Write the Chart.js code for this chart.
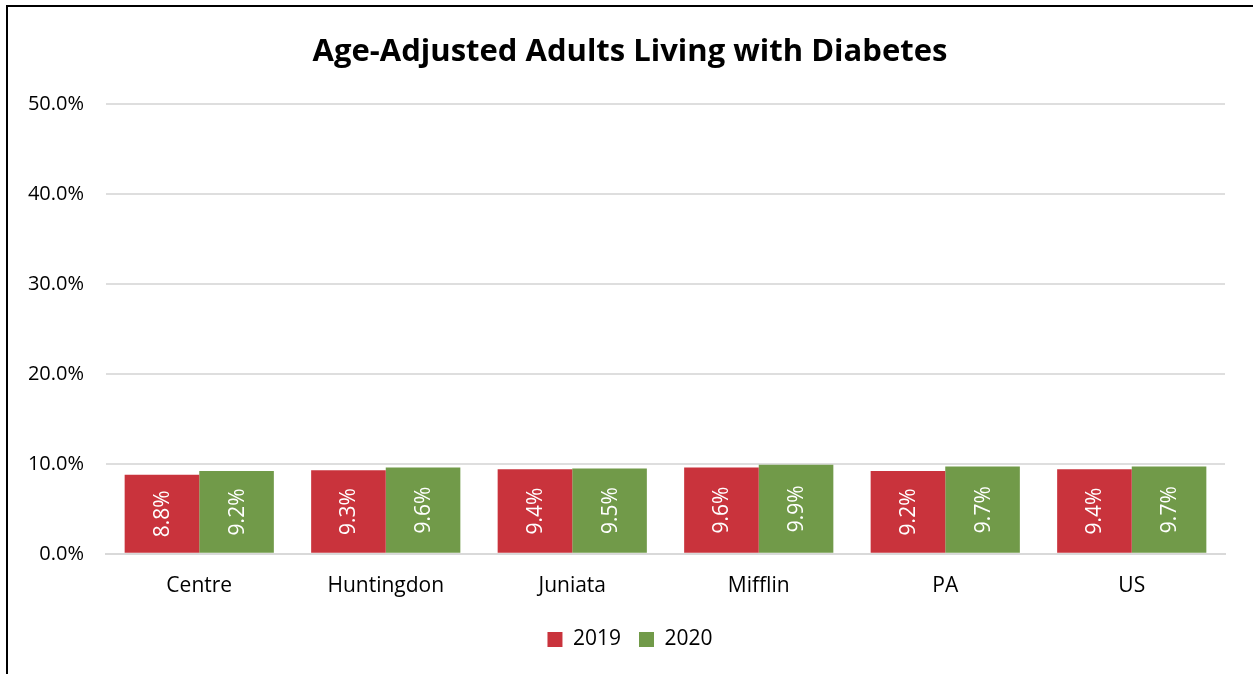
<!DOCTYPE html>
<html>
<head>
<meta charset="utf-8">
<script src="https://cdn.jsdelivr.net/npm/chart.js@4/dist/chart.umd.min.js"></script>
<style>
  body { margin: 0; background: #fff; }
  #frame { position: absolute; left: 6px; top: 5px; width: 1247px; height: 669px;
           border-left: 2px solid #000; border-top: 2px solid #000; box-sizing: border-box; }
  #wrap { position: absolute; left: 0; top: 0; width: 1253px; height: 674px; }
</style>
</head>
<body>
<div id="frame"></div>
<div id="wrap"><canvas id="myChart" width="1253" height="674"></canvas></div>
<script>
const categories = ['Centre', 'Huntingdon', 'Juniata', 'Mifflin', 'PA', 'US'];
const values2019 = [8.8, 9.3, 9.4, 9.6, 9.2, 9.4];
const values2020 = [9.2, 9.6, 9.5, 9.9, 9.7, 9.7];
const seriesNames = ['2019', '2020'];

const fontFamily = '"Open Sans", sans-serif';

// white rotated labels inside each bar
const barLabels = {
    id: 'barLabels',
    afterDatasetsDraw(chart) {
        const ctx = chart.ctx;
        ctx.save();
        ctx.fillStyle = '#ffffff';
        ctx.font = '21px ' + fontFamily;
        ctx.textAlign = 'center';
        ctx.textBaseline = 'middle';
        chart.data.datasets.forEach((ds, i) => {
            chart.getDatasetMeta(i).data.forEach((bar, j) => {
                const midY = (bar.y + bar.base) / 2;
                ctx.save();
                ctx.translate(bar.x, midY);
                ctx.rotate(-Math.PI / 2);
                ctx.fillText(ds.data[j].toFixed(1) + '%', 0, 1);
                ctx.restore();
            });
        });
        ctx.restore();
    }
};

const ctx = document.getElementById('myChart').getContext('2d');
new Chart(ctx, {
    type: 'bar',
    data: {
        labels: categories,
        datasets: [{
            label: seriesNames[0],
            data: values2019,
            backgroundColor: '#C9333C',
        }, {
            label: seriesNames[1],
            data: values2020,
            backgroundColor: '#719A49',
        }]
    },
    options: {
        responsive: false,
        animation: false,
        categoryPercentage: 0.8,
        barPercentage: 1.0,
        layout: { padding: { left: 7, right: 0, top: 0, bottom: 14 } },
        plugins: {
            title: {
                display: true,
                text: 'Age-Adjusted Adults Living with Diabetes',
                color: '#000',
                font: { family: fontFamily, size: 31, weight: 'bold' },
                padding: { top: 34, bottom: 33 }
            },
            legend: {
                position: 'bottom',
                labels: {
                    color: '#000',
                    font: { family: fontFamily, size: 21 },
                    boxWidth: 15,
                    boxHeight: 15,
                    padding: 18
                }
            },
            tooltip: { enabled: false }
        },
        scales: {
            x: {
                grid: { display: false },
                border: { color: '#D9D9D9', width: 2 },
                ticks: {
                    color: '#000',
                    font: { family: fontFamily, size: 21 },
                    padding: 12
                }
            },
            y: {
                min: 0,
                max: 50,
                afterFit(scale) { scale.width = 99; },
                grid: { color: '#DEDEDE', lineWidth: 2, drawTicks: false },
                border: { display: false },
                ticks: {
                    stepSize: 10,
                    color: '#000',
                    font: { family: fontFamily, size: 20 },
                    padding: 22,
                    callback: v => v.toFixed(1) + '%'
                }
            },
            // empty spacer on the right so the title/legend centre like the original
            spacer: {
                type: 'linear',
                position: 'right',
                grid: { display: false },
                border: { display: false },
                ticks: { display: false },
                afterFit(scale) { scale.width = 28; }
            }
        }
    },
    plugins: [barLabels]
});
</script>
</body>
</html>
